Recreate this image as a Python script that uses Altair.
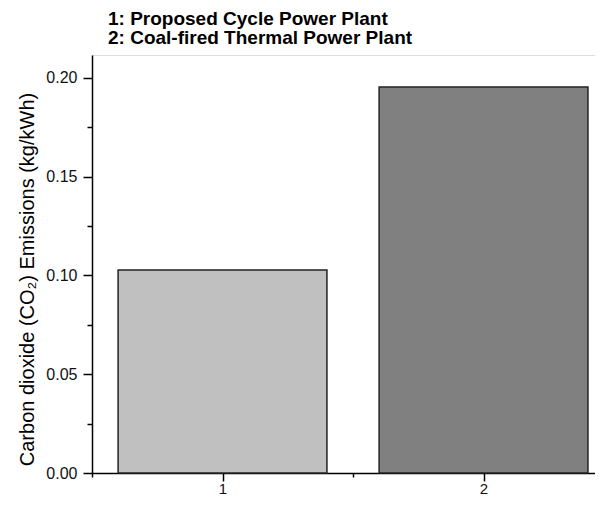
import altair as alt
import pandas as pd

categories = [1, 2]
emissions = [0.1027, 0.1953]
bar_colors = ["#c0c0c0", "#808080"]
x_tick_values = [0.5, 1, 1.5, 2]
y_tick_values = [0, 0.025, 0.05, 0.075, 0.1, 0.125, 0.15, 0.175, 0.2]
title_lines = ["1: Proposed Cycle Power Plant", "2: Coal-fired Thermal Power Plant"]
y_title = "Carbon dioxide (CO\u2082) Emissions (kg/kWh)"

df = pd.DataFrame({"cat": categories, "val": emissions, "color": bar_colors})

FONT = "Liberation Sans"
MAJOR_Y = "abs(datum.value*20 - round(datum.value*20)) < 0.001"

x_axis = alt.Axis(
    values=x_tick_values,
    title=None,
    grid=False,
    labelExpr="datum.value % 1 === 0 ? format(datum.value, 'd') : ''",
    tickSize={"condition": {"test": "datum.value % 1 === 0", "value": 8}, "value": 4},
    labelFontSize=15,
    labelFont=FONT,
    labelColor="#111",
    labelPadding=0,
    domainColor="#000",
    domainWidth=1.5,
    tickColor="#000",
    tickWidth=1.5,
)

y_axis = alt.Axis(
    values=y_tick_values,
    title=y_title,
    grid=False,
    labelExpr=MAJOR_Y + " ? format(datum.value, '.2f') : ''",
    tickSize={"condition": {"test": MAJOR_Y, "value": 9}, "value": 5},
    labelFontSize=16,
    labelFont=FONT,
    labelColor="#111",
    labelPadding=6,
    titleFont=FONT,
    titleFontSize=20,
    titleFontWeight="normal",
    titleColor="#000",
    titlePadding=8,
    titleY=224,
    domainColor="#000",
    domainWidth=1.5,
    tickColor="#000",
    tickWidth=1.5,
)

chart = (
    alt.Chart(df)
    .transform_calculate(x0="datum.cat - 0.4", x1="datum.cat + 0.4")
    .mark_bar(stroke="#222222", strokeWidth=1.5)
    .encode(
        x=alt.X("x0:Q", scale=alt.Scale(domain=[0.5, 2.427], nice=False, zero=False), axis=x_axis),
        x2="x1:Q",
        y=alt.Y("val:Q", scale=alt.Scale(domain=[0, 0.2115], nice=False), axis=y_axis),
        y2=alt.datum(0),
        color=alt.Color("color:N", scale=None, legend=None),
    )
    .properties(
        width=503,
        height=418,
        title=alt.TitleParams(
            title_lines,
            anchor="start",
            frame="group",
            font=FONT,
            fontSize=19,
            fontWeight="bold",
            color="#000",
            lineHeight=19,
            offset=7,
            dx=16,
        ),
        autosize=alt.AutoSizeParams(type="none"),
        padding={"left": 84, "top": 47, "right": 0, "bottom": 28},
    )
    .configure_view(stroke=None)
    .configure(background="white")
)

chart.save("out.html", embed_options={"renderer": "svg", "actions": False})
